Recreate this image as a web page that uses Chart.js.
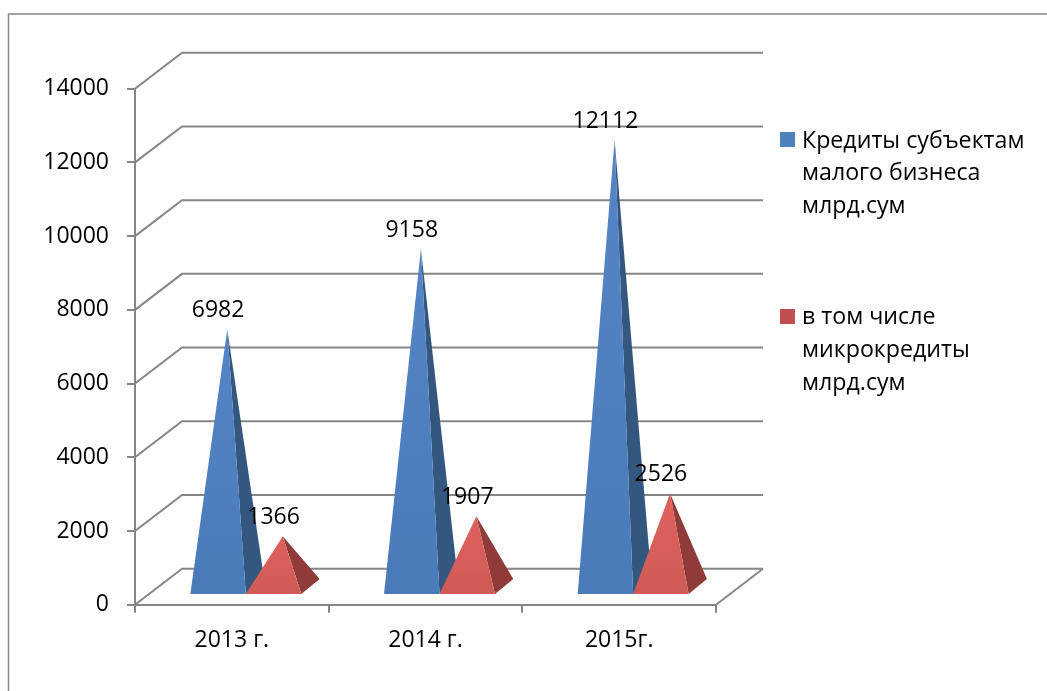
<!DOCTYPE html>
<html><head><meta charset="utf-8">
<style>html,body{margin:0;padding:0;background:#fff}canvas{display:block}</style>
<script src="https://cdn.jsdelivr.net/npm/chart.js@4"></script>
</head><body><canvas id="c" width="1047" height="691"></canvas>
<script>
const categories = ['2013 г.', '2014 г.', '2015г.'];
const creditsLabel = ['Кредиты субъектам', 'малого бизнеса', 'млрд.сум'];
const microLabel = ['в том числе', 'микрокредиты', 'млрд.сум'];
const credits = [6982, 9158, 12112];
const micro = [1366, 1907, 2526];
const yMax = 14000, yStep = 2000;

const FONT = '"Open Sans", sans-serif', FS = 23;
const LEGEND_FS = 23.2;
const GRID = '#868686';
const WALL = {dx: 47, dy: -36};      // back wall offset of the 3D box
const FRONT = {dx: 14, dy: -10.7};   // front edge of the pyramid bases
const DEPTH = {dx: 18.3, dy: -15};   // base depth
const FACES = [
  {front: ['#4a7ab8', '#5585c6'], side: '#34577f', legend: '#4f81bd'},
  {front: ['#d05a57', '#de625f'], side: '#8f3b39', legend: '#c0504d'}
];
const LEGEND = [{box: [780, 132], text: 802, lines: [141, 173.5, 206]},
                {box: [780, 309], text: 802, lines: [317, 350, 383]}];

const scene3d = {
  id: 'scene3d',
  beforeDatasetsDraw(chart) {
    const {ctx, scales: {x, y}, chartArea: a} = chart;
    ctx.save();
    ctx.strokeStyle = GRID;
    ctx.lineWidth = 1.5;
    ctx.beginPath();
    ctx.moveTo(8.5, 691); ctx.lineTo(8.5, 14); ctx.lineTo(1047, 14);
    ctx.stroke();
    ctx.lineWidth = 2;
    ctx.beginPath();
    y.ticks.forEach(t => {
      const py = y.getPixelForValue(t.value);
      ctx.moveTo(a.left, py);
      ctx.lineTo(a.left + WALL.dx, py + WALL.dy);
      ctx.lineTo(a.right + WALL.dx, py + WALL.dy);
    });
    ctx.moveTo(a.right, a.bottom);
    ctx.lineTo(a.right + WALL.dx, a.bottom + WALL.dy);
    ctx.stroke();
    ctx.restore();
  },
  beforeDatasetDraw() { return false; },
  afterDatasetsDraw(chart) {
    const {ctx, scales: {y}} = chart;
    const y0 = y.getPixelForValue(0);
    const tri = (pts, fill) => {
      ctx.fillStyle = fill;
      ctx.beginPath();
      pts.forEach((p, i) => i ? ctx.lineTo(p[0], p[1]) : ctx.moveTo(p[0], p[1]));
      ctx.closePath();
      ctx.fill();
    };
    chart.data.datasets.forEach((ds, di) => {
      chart.getDatasetMeta(di).data.forEach(bar => {
        const half = bar.width / 2;
        const l = bar.x - half + FRONT.dx, r = bar.x + half + FRONT.dx, by = y0 + FRONT.dy;
        const apex = [bar.x + FRONT.dx + DEPTH.dx / 2, bar.y + FRONT.dy + DEPTH.dy / 2];
        tri([apex, [r, by], [r + DEPTH.dx, by + DEPTH.dy]], FACES[di].side);
        const g = ctx.createLinearGradient(0, by, 0, apex[1]);
        g.addColorStop(0, FACES[di].front[0]);
        g.addColorStop(1, FACES[di].front[1]);
        tri([apex, [l, by], [r, by]], g);
      });
    });
    ctx.save();
    ctx.font = FS + 'px ' + FONT;
    ctx.fillStyle = '#000';
    ctx.textAlign = 'center';
    ctx.textBaseline = 'middle';
    chart.data.datasets.forEach((ds, di) => {
      chart.getDatasetMeta(di).data.forEach((bar, i) => {
        ctx.fillText(String(ds.data[i]), bar.x + FRONT.dx, bar.y + FRONT.dy + DEPTH.dy / 2 - 18.5);
      });
    });
    ctx.textAlign = 'left';
    ctx.font = LEGEND_FS + 'px ' + FONT;
    chart.data.datasets.forEach((ds, di) => {
      const L = LEGEND[di];
      ctx.fillStyle = FACES[di].legend;
      ctx.fillRect(L.box[0], L.box[1], 15, 15);
      ctx.fillStyle = '#000';
      ds.label.forEach((s, i) => ctx.fillText(s, L.text, L.lines[i]));
    });
    ctx.restore();
  }
};

new Chart(document.getElementById('c'), {
  type: 'bar',
  data: {
    labels: categories,
    datasets: [
      {label: creditsLabel, data: credits, backgroundColor: FACES[0].legend},
      {label: microLabel, data: micro, backgroundColor: FACES[1].legend}
    ]
  },
  options: {
    responsive: false,
    animation: false,
    layout: {padding: {left: 0, right: 331, top: 88.7, bottom: 0}},
    categoryPercentage: 0.573,
    barPercentage: 1,
    plugins: {legend: {display: false}, title: {display: false}, tooltip: {enabled: false}},
    scales: {
      x: {
        afterFit(s) { s.height = 86.3; },
        grid: {drawOnChartArea: false, drawTicks: true, tickLength: 8, color: GRID, lineWidth: 2, offset: true},
        border: {color: GRID, width: 2},
        ticks: {color: '#000', padding: 14, maxRotation: 0, font: {family: FONT, size: FS}}
      },
      y: {
        min: 0, max: yMax,
        afterFit(s) { s.width = 135; },
        grid: {drawOnChartArea: false, drawTicks: true, tickLength: 8, color: GRID, lineWidth: 2},
        border: {color: GRID, width: 2},
        ticks: {stepSize: yStep, color: '#000', padding: 18, font: {family: FONT, size: FS}, callback: v => String(v)}
      }
    }
  },
  plugins: [scene3d]
});
</script></body></html>
